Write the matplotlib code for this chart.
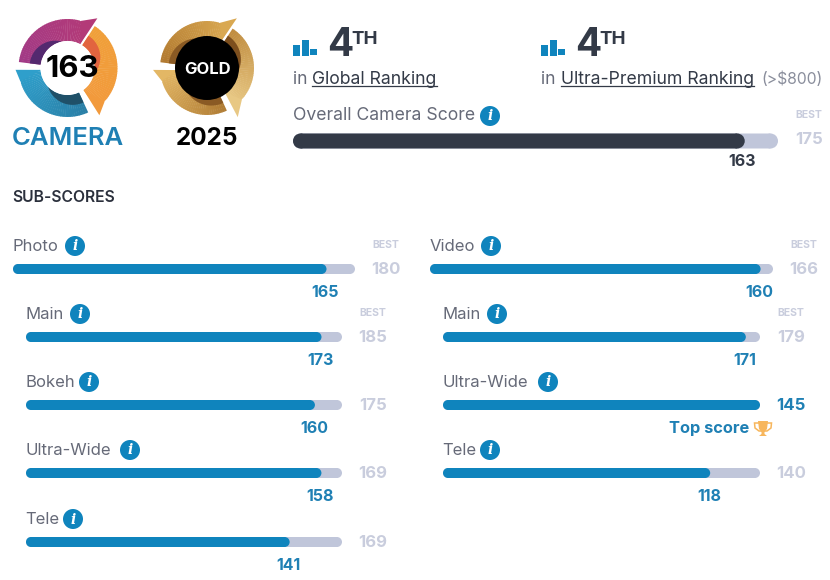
import numpy as np
import matplotlib
matplotlib.use("Agg")
import matplotlib.pyplot as plt
from matplotlib.patches import Circle, Polygon, Rectangle
from matplotlib.colors import to_rgb

plt.rcParams['font.family'] = ['Inter', 'DejaVu Sans']

# data
overall_score = 163
overall_best = 175
left_labels = ["Photo", "Main", "Bokeh", "Ultra-Wide", "Tele"]
left_scores = [165, 173, 160, 158, 141]
left_best = [180, 185, 175, 169, 169]
right_labels = ["Video", "Main", "Ultra-Wide", "Tele"]
right_scores = [160, 171, 145, 118]
right_best = [166, 179, 145, 140]
rank_bars = [0.68, 1.0, 0.42]

BLUE = "#0f84bd"
TEXT_BLUE = "#1f80b4"
TRACK = "#c0c6da"
DARK = "#333a47"
GREY = "#666a78"
FADED = "#c9cddd"

fig = plt.figure(figsize=(8.3, 5.8), dpi=100)
ax = fig.add_axes([0, 0, 1, 1])
ax.set_xlim(0, 830)
ax.set_ylim(580, 0)
ax.axis("off")


def rounded(x0, x1, y, h, color, z=2):
    r = h / 2
    ax.add_patch(Rectangle((x0 + r, y - r), x1 - x0 - 2 * r, h, fc=color, ec="none", zorder=z, snap=False))
    ax.add_patch(Circle((x0 + r, y), r, fc=color, ec="none", zorder=z))
    ax.add_patch(Circle((x1 - r, y), r, fc=color, ec="none", zorder=z))


def info(x, y):
    ax.add_patch(Circle((x, y), 10, fc=BLUE, ec="none", zorder=3))
    ax.text(x, y + 0.5, "i", color="white", fontsize=10, fontweight="bold", style="italic",
            family="DejaVu Serif", ha="center", va="center", zorder=4)


def pol(cx, cy, theta, r):
    t = np.radians(theta)
    return np.column_stack([cx + r * np.cos(t), cy - r * np.sin(t)])


def mix(c0, c1, f):
    a, b = np.array(to_rgb(c0)), np.array(to_rgb(c1))
    return tuple(a + (b - a) * f)


def ring_piece(cx, cy, start, r_in, r_out, r_tip, tip_theta, c0, c1, band, z=2):
    # gradient ring segment with a pointed tail and a darker crescent inside
    n = 40
    end = start + 111
    lead = start + 12
    for i in range(n):
        a0 = start + (end - start) * i / n
        a1 = start + (end - start) * (i + 1) / n + 0.6
        if a1 > end:
            a1 = end
        f = i / (n - 1)
        ts = np.array([a0, a1])
        outer = np.where(ts < lead, r_in + (r_out - r_in) * (0.75 + 0.25 * np.clip((ts - start) / (lead - start), 0, 1)), r_out)
        pts = np.vstack([pol(cx, cy, ts[0], outer[0]), pol(cx, cy, ts[1], outer[1]),
                         pol(cx, cy, ts[1], r_in), pol(cx, cy, ts[0], r_in)])
        ax.add_patch(Polygon(pts, fc=mix(c0, c1, f), ec="none", zorder=z))
    # tail
    pts = np.vstack([pol(cx, cy, tip_theta, r_tip), pol(cx, cy, lead, r_out),
                     pol(cx, cy, start, r_in)])
    ax.add_patch(Polygon(pts, fc=c0, ec="none", zorder=z))
    # crescent
    ts = np.linspace(start + 40, end, 30)
    rs = r_in + (r_out - r_in) * 0.5 * np.sin((ts - ts[0]) / (end - ts[0]) * np.pi / 2)
    pts = np.vstack([pol(cx, cy, ts, rs), pol(cx, cy, ts[::-1], np.full(30, r_in))])
    ax.add_patch(Polygon(pts, fc=band, ec="none", zorder=z + 1))


# logo
cx, cy = 67.5, 68
ring_piece(cx, cy, 184, 27, 49, 52, 182, "#2f9fcb", "#2a7fa6", "#1f5068")
ring_piece(cx, cy, 306, 27, 50, 57, 304, "#f29a3c", "#f0a03a", "#e2643f")
ring_piece(cx, cy, 62, 27, 49, 58, 59, "#b33a78", "#a23a86", "#54296f")
ax.add_patch(Circle((cx, cy), 27, fc="white", ec="none", zorder=5))
ax.text(72.5, 69, "163", fontsize=22.5, fontweight="bold", color="black", ha="center", va="center", zorder=6)
ax.text(68, 138.5, "CAMERA", fontsize=18.5, fontweight="semibold", color=TEXT_BLUE, ha="center", va="center")

# gold badge
gx, gy = 207, 68
ring_piece(gx, gy, 184, 30, 47, 54, 182, "#e3b765", "#b07c34", "#8a5a24")
ring_piece(gx, gy, 306, 30, 47, 58, 302, "#e8c884", "#c08c3f", "#7d4f1e")
ring_piece(gx, gy, 62, 30, 47, 58, 59, "#d9a851", "#b27a30", "#8a5a24")
ax.add_patch(Circle((gx, gy), 32, fc="black", ec="none", zorder=5))
ax.text(gx + 1, 69, "GOLD", fontsize=12, fontweight="bold", color="white", ha="center", va="center", zorder=6)
ax.text(207, 138.5, "2025", fontsize=17.5, fontweight="bold", color="black", ha="center", va="center")


# rankings
def rank_block(x):
    for i, h in enumerate(rank_bars):
        ax.bar(x + 3.5 + i * 8.5, 16 * h, width=7, bottom=55.5 - 16 * h, color=BLUE, zorder=2)
    ax.text(x + 34, 46, "4", fontsize=28, fontweight="bold", color=DARK, ha="left", va="center")
    ax.text(x + 58, 40, "TH", fontsize=13.5, fontweight="bold", color=DARK, ha="left", va="center")


rank_block(293)
rank_block(541)
ax.text(293, 79.5, "in", fontsize=12.5, color=GREY, ha="left", va="center")
ax.text(312, 79.5, "Global Ranking", fontsize=12.7, color=DARK, ha="left", va="center")
ax.plot([312, 437], [86, 86], color=DARK, lw=0.9)
ax.text(541, 79.5, "in", fontsize=12.5, color=GREY, ha="left", va="center")
ax.text(561, 79.5, "Ultra-Premium Ranking", fontsize=12.7, color=DARK, ha="left", va="center")
ax.plot([561, 754], [86, 86], color=DARK, lw=0.9)
ax.text(761, 79.5, "(>$800)", fontsize=11.3, color="#8a8e9c", ha="left", va="center")

# overall bar
ax.text(293, 115.5, "Overall Camera Score", fontsize=12.7, color=GREY, ha="left", va="center")
info(490, 116)
ax.text(809, 115, "BEST", fontsize=7.5, fontweight="bold", color=FADED, ha="center", va="center")
ax.text(809, 139.5, str(overall_best), fontsize=12, fontweight="bold", color=FADED, ha="center", va="center")
rounded(293, 778, 141, 15, TRACK)
rounded(293, 293 + 485 * overall_score / overall_best, 141, 15, DARK, z=3)
ax.text(742, 161.5, str(overall_score), fontsize=11.5, fontweight="bold", color=DARK, ha="center", va="center")

ax.text(12, 197, "SUB-SCORES", fontsize=11.3, fontweight="semibold", color="#2b303c", ha="left", va="center")


def sub_rows(labels, scores, best, x_head, x_sub, head_w, sub_w, icons, show_best):
    ys = [269, 337, 405, 473, 542]
    for i, (lab, sc, bs) in enumerate(zip(labels, scores, best)):
        x0 = x_head if i == 0 else x_sub
        w = head_w if i == 0 else sub_w
        y = ys[i]
        ax.text(x0 - 0.5, y - 22.5, lab, fontsize=12, color=GREY, ha="left", va="center")
        info(icons[i], y - 23)
        end = x0 + w * sc / bs
        rounded(x0, x0 + w, y, 10, TRACK)
        rounded(x0, end, y, 10, BLUE, z=3)
        top = sc >= bs
        best_x = x0 + w + 31
        if i in show_best:
            ax.text(best_x, y - 24.5, "BEST", fontsize=7.5, fontweight="bold", color=FADED, ha="center", va="center")
        ax.text(best_x, y + 0.5, str(bs), fontsize=12, fontweight="bold",
                color=TEXT_BLUE if top else FADED, ha="center", va="center")
        if not top:
            ax.text(end - 1, y + 23.5, str(sc), fontsize=11.5, fontweight="bold", color=TEXT_BLUE,
                    ha="center", va="center")


sub_rows(left_labels, left_scores, left_best, 13, 26, 342, 316, [75, 80, 89, 130, 73], (0, 1))
sub_rows(right_labels, right_scores, right_best, 430, 443, 343, 317, [491, 497, 548, 490], (0, 1))

# top score with trophy
ax.text(749, 429, "Top score", fontsize=11.8, fontweight="bold", color=TEXT_BLUE, ha="right", va="center")
TROPHY = "#f7b65c"
ax.add_patch(Polygon([(758, 421), (768, 421), (767, 429), (764.5, 432), (764.5, 434), (767, 436),
                      (759, 436), (761.5, 434), (761.5, 432), (759, 429)], fc=TROPHY, ec="none"))
ax.add_patch(Polygon([(754.5, 423), (771.5, 423), (771, 428), (767, 431), (759, 431), (755, 428)],
                     fc="none", ec=TROPHY, lw=1.1))

fig.savefig("out.png", dpi=100)
